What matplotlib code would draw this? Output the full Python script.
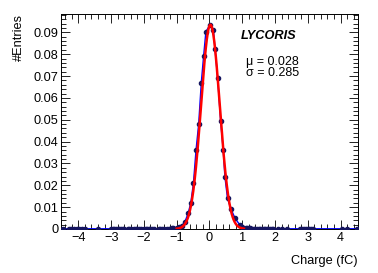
import numpy as np
import matplotlib
matplotlib.use('Agg')
import matplotlib.pyplot as plt
from matplotlib.ticker import MultipleLocator

plt.rcParams['font.family'] = ['Liberation Sans', 'DejaVu Sans']
plt.rcParams['axes.unicode_minus'] = True

# charge bins (fC) and normalised entries
charge = [-4.47, -4.30, -4.22, -4.12, -4.05, -3.97, -3.90, -3.80, -3.40,
          -3.00, -2.95, -2.90, -2.85, -2.80, -2.75, -2.70, -2.65, -2.60,
          -2.50, -2.45, -2.40, -2.30, -2.25, -2.20, -2.15, -2.10, -2.00,
          -1.95, -1.90, -1.85, -1.80, -1.75, -1.70, -1.55, -1.50, -1.45,
          -1.40, -1.30, -1.25, -1.20, -1.15, -1.10, -1.00, -0.94, -0.85,
          -0.75, -0.65, -0.57, -0.49, -0.41, -0.33, -0.25, -0.18, -0.11,
          0.015, 0.12, 0.17, 0.25, 0.34, 0.42, 0.47, 0.55, 0.66, 0.78,
          0.93, 1.00, 1.10, 1.15, 1.20, 1.25, 1.30, 1.35, 1.40, 1.45,
          1.50, 1.55, 1.60, 1.65, 1.70, 1.75, 1.80, 1.85, 1.90, 1.95,
          2.10, 2.20, 2.36, 2.76, 2.82, 2.88, 2.95, 3.00, 3.05, 3.10,
          3.15, 4.04, 4.20, 4.50]
entries = [0.0001, 0.0001, 0.0001, 0.0001, 0.0001, 0.0001, 0.0001, 0.0001, 0.0001,
           0.0001, 0.0001, 0.0001, 0.0001, 0.0001, 0.0001, 0.0001, 0.0001, 0.0001,
           0.0001, 0.0001, 0.0001, 0.0001, 0.0001, 0.0001, 0.0001, 0.0001, 0.0001,
           0.0001, 0.0001, 0.0001, 0.0001, 0.0001, 0.0001, 0.0001, 0.0001, 0.0001,
           0.0002, 0.0002, 0.0002, 0.0002, 0.0003, 0.0003, 0.0005, 0.0008, 0.0014,
           0.0033, 0.0072, 0.0120, 0.0209, 0.0362, 0.0480, 0.0670, 0.0790, 0.0903,
           0.0934, 0.0910, 0.0822, 0.0690, 0.0494, 0.0360, 0.0240, 0.0140, 0.0090, 0.0049,
           0.0018, 0.0009, 0.0005, 0.0004, 0.0003, 0.0003, 0.0002, 0.0002, 0.0002, 0.0002,
           0.0001, 0.0001, 0.0001, 0.0001, 0.0001, 0.0001, 0.0001, 0.0001, 0.0001, 0.0001,
           0.0001, 0.0001, 0.0001, 0.0001, 0.0001, 0.0001, 0.0001, 0.0001, 0.0001, 0.0001,
           0.0001, 0.0001, 0.0001, 0.0001]

# gaussian fit result
fit_amp = 0.0935
fit_mu = 0.028
fit_sigma = 0.285
fit_range = (-1.0, 1.05)

fig = plt.figure(figsize=(3.78, 2.73), dpi=100)
ax = fig.add_axes([0.1614, 0.1612, 0.947 - 0.1614, 0.9487 - 0.1612])

ax.plot(charge, entries, color='#0000ff', linewidth=1.0, zorder=2)
ax.plot(charge, entries, linestyle='none', marker='o', markersize=3.0,
        color='#151560', zorder=3)

xf = np.linspace(fit_range[0], fit_range[1], 200)
yf = fit_amp * np.exp(-0.5 * ((xf - fit_mu) / fit_sigma) ** 2)
ax.plot(xf, yf, color='#ff0000', linewidth=1.8, zorder=4)

ax.set_xlim(-4.53, 4.53)
ax.set_ylim(0, 0.0984)

ax.xaxis.set_major_locator(MultipleLocator(1))
ax.xaxis.set_minor_locator(MultipleLocator(0.2))
ax.yaxis.set_major_locator(MultipleLocator(0.01))
ax.yaxis.set_minor_locator(MultipleLocator(0.002))
ax.yaxis.set_major_formatter(matplotlib.ticker.FuncFormatter(
    lambda v, p: '0' if abs(v) < 1e-9 else '%.2f' % v))

ax.tick_params(which='both', direction='in', top=True, right=True,
               labelsize=9.2, width=0.6, colors='black')
ax.tick_params(which='major', length=6.5, pad=2)
ax.tick_params(which='minor', length=3.5)
ax.tick_params(axis='x', which='major', pad=2)
for s in ax.spines.values():
    s.set_linewidth(0.7)

ax.set_ylabel('#Entries', fontsize=9.2, loc='top', labelpad=6)
ax.set_xlabel('Charge (fC)', fontsize=9.2, loc='right', labelpad=8)

ax.text(0.605, 0.9, 'LYCORIS', transform=ax.transAxes, fontsize=9.2,
        fontweight='bold', fontstyle='italic', va='center')
ax.text(0.622, 0.777, 'μ = 0.028', transform=ax.transAxes, fontsize=9,
        va='center')
ax.text(0.622, 0.727, 'σ = 0.285', transform=ax.transAxes, fontsize=9,
        va='center')

fig.savefig('out.png', dpi=100)
plt.close(fig)
